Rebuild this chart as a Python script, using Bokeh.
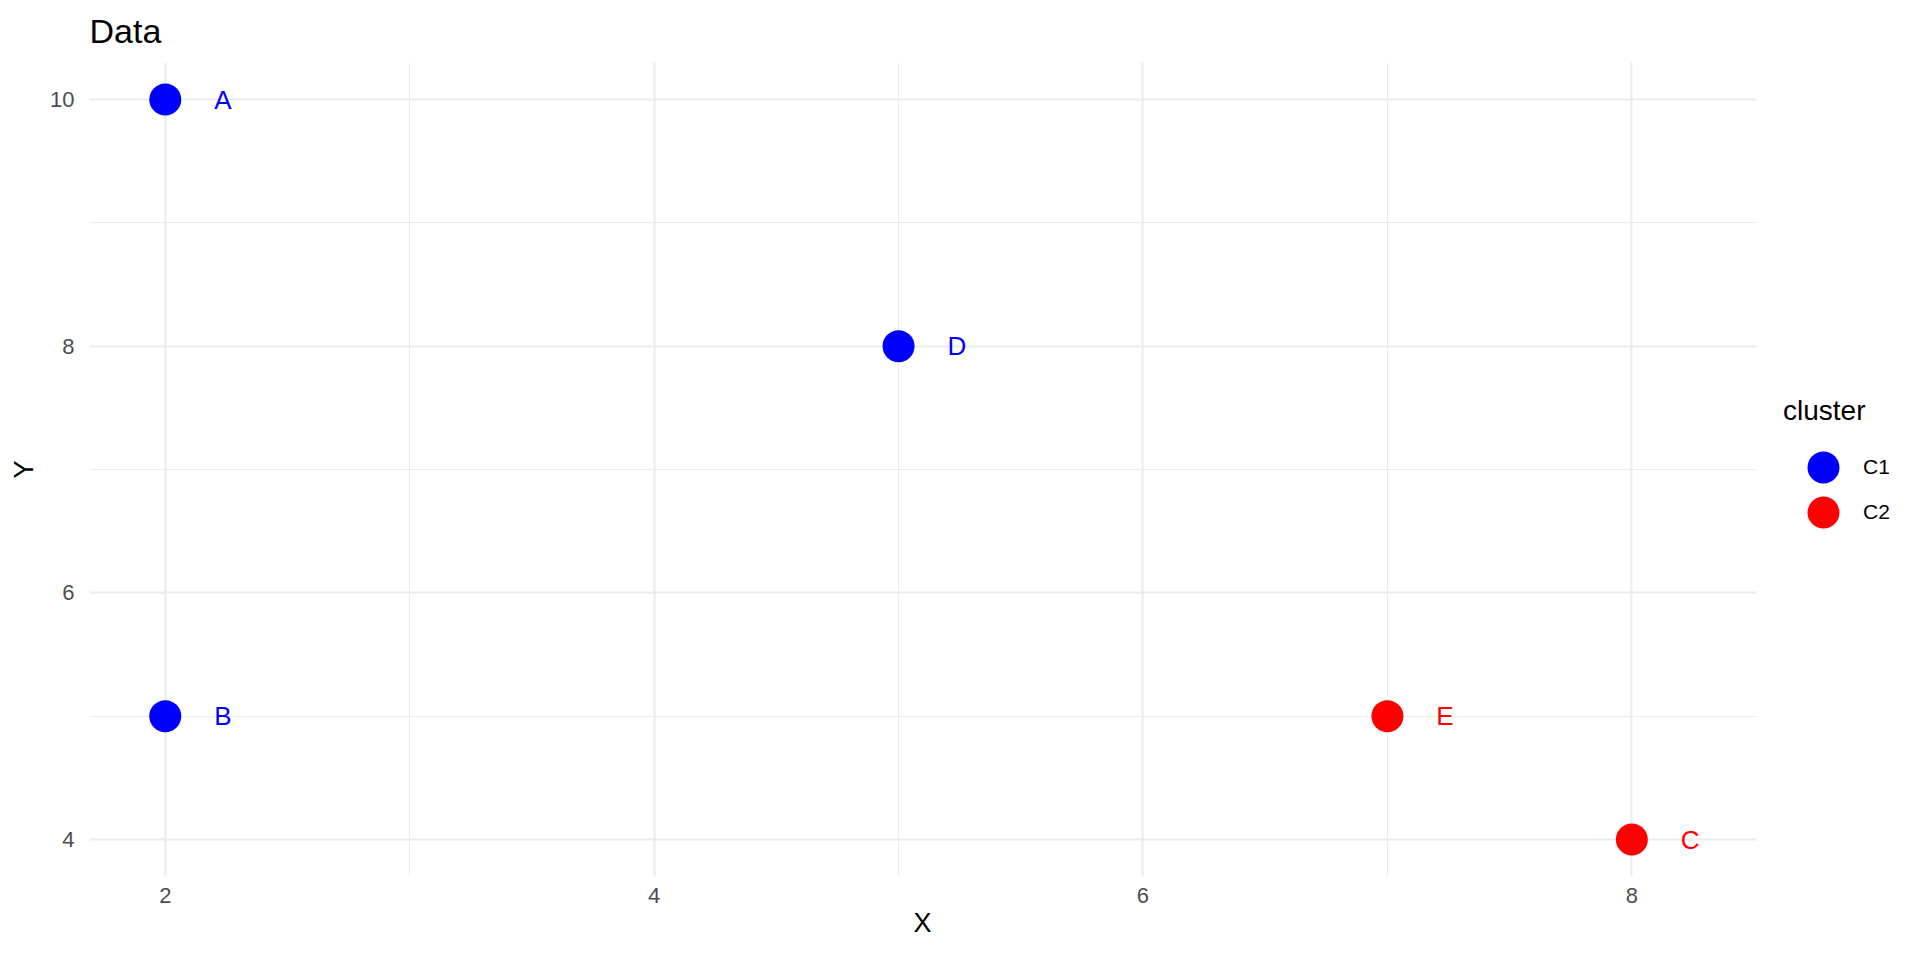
from bokeh.plotting import figure
from bokeh.models import ColumnDataSource, Range1d, FixedTicker, Legend, LegendItem, Grid, Title
from bokeh.core.properties import value
from bokeh.embed import file_html
from bokeh.resources import INLINE

# ---- data ----
names = ["A", "B", "C", "D", "E"]
xs = [2, 2, 8, 5, 7]
ys = [10, 5, 4, 8, 5]
clusters = ["C1", "C1", "C2", "C1", "C2"]
cluster_levels = ["C1", "C2"]
cluster_colors = ["#0000FF", "#FF0000"]
x_ticks = [2, 4, 6, 8]
x_minor = [3, 5, 7]
y_ticks = [4, 6, 8, 10]
y_minor = [5, 7, 9]
nudge = 0.2

FONT = "Liberation Sans"

# layout (pixels)
W, H = 1904, 944
LEFT, TOP, BOTTOM = 89, 62, 68
PANEL_W = 1667          # width of the data panel; the rest on the right holds the legend

# ranges like ggplot (5% expansion incl. labels)
xmin, xmax = min(xs), max(x + nudge for x in xs)
ymin, ymax = min(ys), max(ys)
xlo = xmin - 0.05 * (xmax - xmin)
xhi = xmax + 0.05 * (xmax - xmin)
ylo = ymin - 0.05 * (ymax - ymin)
yhi = ymax + 0.05 * (ymax - ymin)
frame_w = W - LEFT
x_end = xlo + (xhi - xlo) * frame_w / PANEL_W

p = figure(width=W, height=H, output_backend="svg", toolbar_location=None,
           x_range=Range1d(xlo, x_end), y_range=Range1d(ylo, yhi),
           min_border_left=LEFT, min_border_right=0, min_border_top=TOP, min_border_bottom=BOTTOM)
p.outline_line_color = None
p.background_fill_color = "white"

p.title.text = "Data"
p.title.text_font = FONT
p.title.text_font_size = "34px"
p.title.text_font_style = "normal"
p.title.text_color = "black"
p.title.align = "left"
p.title.vertical_align = "top"
p.title.standoff = 21

for ax, ticks, minor in ((p.xaxis[0], x_ticks, x_minor), (p.yaxis[0], y_ticks, y_minor)):
    ax.ticker = FixedTicker(ticks=ticks, minor_ticks=minor)
    ax.axis_line_color = None
    ax.major_tick_line_color = None
    ax.minor_tick_line_color = None
    ax.major_tick_out = 0
    ax.major_tick_in = 0
    ax.minor_tick_out = 0
    ax.minor_tick_in = 0
    ax.major_label_text_font = FONT
    ax.major_label_text_font_size = "22px"
    ax.major_label_text_color = "#4D4D4D"
    ax.axis_label_text_font = FONT
    ax.axis_label_text_font_size = "27px"
    ax.axis_label_text_font_style = "normal"
    ax.axis_label_text_color = "black"
p.yaxis.axis_label = "Y"
p.xaxis.bounds = (xlo, xhi)
p.xaxis.major_label_standoff = 11
p.yaxis.major_label_standoff = 15
p.yaxis.axis_label_standoff = 8

# x axis title, centred under the data panel
x_title = Title(text="X", align="left", offset=round(PANEL_W / 2 - 9), standoff=0,
                vertical_align="bottom", text_font=FONT, text_font_size="27px",
                text_font_style="normal", text_color="black")
if "text_line_height" in Title.properties():
    x_title.text_line_height = 1.42
p.add_layout(x_title, "below")

for g in (p.xgrid[0], p.ygrid[0]):
    g.grid_line_color = "#EBEBEB"
    g.grid_line_width = 2
    g.minor_grid_line_color = "#EBEBEB"
    g.minor_grid_line_width = 1

if "cross_bounds" in Grid.properties():
    p.ygrid[0].cross_bounds = (xlo, xhi)
else:
    p.ygrid[0].visible = False
    p.segment(x0=xlo, x1=xhi, y0=y_ticks, y1=y_ticks, line_color="#EBEBEB", line_width=2)
    p.segment(x0=xlo, x1=xhi, y0=y_minor, y1=y_minor, line_color="#EBEBEB", line_width=1)

renderers = []
for lvl, col in zip(cluster_levels, cluster_colors):
    idx = [i for i, c in enumerate(clusters) if c == lvl]
    src = ColumnDataSource(dict(
        x=[xs[i] for i in idx],
        y=[ys[i] for i in idx],
        lx=[xs[i] + nudge for i in idx],
        name=[names[i] for i in idx],
    ))
    r = p.scatter("x", "y", source=src, size=32, fill_color=col, line_color=None)
    p.text("lx", "y", text="name", source=src, text_color=col, text_font=value(FONT),
           text_font_size="26px", text_align="left", text_baseline="middle")
    renderers.append(r)

common = dict(label_text_font=FONT, label_text_font_size="21px", label_text_color="black",
              glyph_width=80, glyph_height=80, spacing=0, label_standoff=0,
              margin=0, padding=0, border_line_color=None, background_fill_alpha=0)
leg_x = PANEL_W + 27
leg1 = Legend(items=[LegendItem(label=cluster_levels[0], renderers=[renderers[0]])],
              title="cluster", location=(leg_x, 369),
              title_text_font=FONT, title_text_font_size="28px", title_text_color="black",
              title_text_font_style="normal", title_text_baseline="alphabetic",
              title_standoff=0, **common)
leg2 = Legend(items=[LegendItem(label=cluster_levels[1], renderers=[renderers[1]])],
              location=(leg_x, 324), **common)
p.add_layout(leg1, "center")
p.add_layout(leg2, "center")

open("out.html", "w").write(file_html(p, INLINE))
